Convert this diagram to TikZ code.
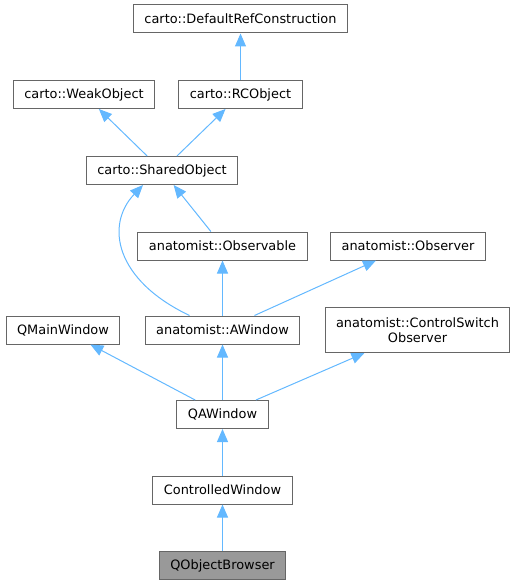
\documentclass[tikz,border=0pt]{standalone}
\usepackage{fontspec}
\setmainfont{DejaVu Sans}
\usepackage{tikz}
\usetikzlibrary{arrows.meta}
\definecolor{edgeblue}{HTML}{63B8FF}
\definecolor{boxgray}{HTML}{666666}
\definecolor{leafgray}{HTML}{999999}

\begin{document}
\begin{tikzpicture}[x=1pt,y=-1pt,
    cls/.style={draw=boxgray,fill=white,line width=1pt,minimum height=28pt,inner xsep=11pt,align=center},
    leaf/.style={cls,fill=leafgray},
    inh/.style={draw=edgeblue,line width=1pt,-{Triangle[width=11pt,length=13pt]}}]
    \useasboundingbox (0,0) rectangle (516,585);
    \begin{scope}[font=\fontsize{12.9}{15}\selectfont]
    % classes, top to bottom
    \node [cls] (dref)   at (240.5,19)  {carto::DefaultRefConstruction};
    \node [cls] (weak)   at (84,94.5)   {carto::WeakObject};
    \node [cls] (rco)    at (240.5,94.5) {carto::RCObject};
    \node [cls] (shared) at (162,170.5) {carto::SharedObject};
    \node [cls] (obsv)   at (222.5,246) {anatomist::Observable};
    \node [cls] (obsr)   at (408,246)   {anatomist::Observer};
    \node [cls] (qmw)    at (63,330)    {QMainWindow};
    \node [cls] (awin)   at (222.5,330) {anatomist::AWindow};
    \node [cls,minimum height=45pt] (csobs) at (417.5,330) {anatomist::ControlSwitch\\Observer};
    \node [cls] (qaw)    at (222.5,414.5) {QAWindow};
    \node [cls] (ctrl)   at (222.5,490) {ControlledWindow};
    \node [leaf] (qob)   at (222.5,565.5) {QObjectBrowser};
    \end{scope}
    % inheritance arrows point to the base class
    \foreach \a/\b in {rco/dref,shared/weak,shared/rco,obsv/shared,awin/obsv,awin/obsr,
                       qaw/qmw,qaw/awin,qaw/csobs,ctrl/qaw,qob/ctrl}{%
        \draw [inh] (\a) -- (\b);
    }
    \draw [inh] ([xshift=-33pt]awin.north) .. controls (115,280) and (105,225) .. ([xshift=-19pt]shared.south);
\end{tikzpicture}
\end{document}
